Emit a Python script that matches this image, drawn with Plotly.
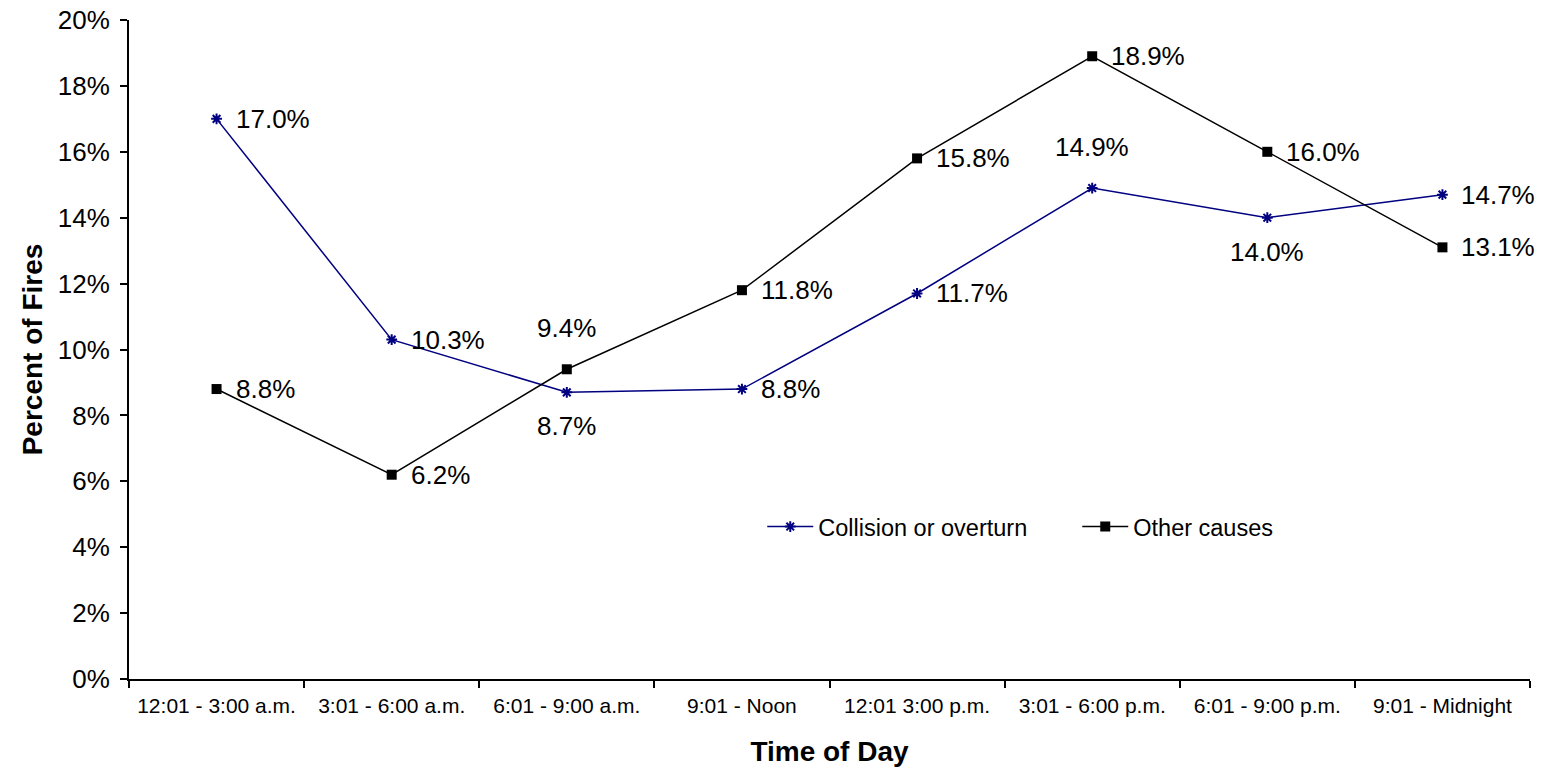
import plotly.graph_objects as go

# Time-of-day buckets and share of vehicle fires (%)
periods = ["12:01 - 3:00 a.m.", "3:01 - 6:00 a.m.", "6:01 - 9:00 a.m.", "9:01 - Noon",
           "12:01 3:00 p.m.", "3:01 - 6:00 p.m.", "6:01 - 9:00 p.m.", "9:01 - Midnight"]
collision = [17.0, 10.3, 8.7, 8.8, 11.7, 14.9, 14.0, 14.7]
other = [8.8, 6.2, 9.4, 11.8, 15.8, 18.9, 16.0, 13.1]

# label placement per point: "r" right, "a" above, "b" below
collision_pos = ["r", "r", "b", "r", "r", "a", "b", "r"]
other_pos = ["r", "r", "a", "r", "r", "r", "r", "r"]

FONT = "Liberation Sans, Arial, sans-serif"
NAVY = "#000080"

fig = go.Figure()
fig.add_trace(go.Scatter(
    x=periods, y=collision, mode="lines+markers", name="Collision or overturn",
    line=dict(color=NAVY, width=1.5),
    marker=dict(symbol="asterisk-open", size=9, color=NAVY, line=dict(color=NAVY, width=2)),
))
fig.add_trace(go.Scatter(
    x=periods, y=other, mode="lines+markers", name="Other causes",
    line=dict(color="black", width=1.5),
    marker=dict(symbol="square", size=10, color="black"),
))

annotations = []
for series, positions in ((collision, collision_pos), (other, other_pos)):
    for p, v, pos in zip(periods, series, positions):
        a = dict(x=p, y=v, text=f"{v:.1f}%", showarrow=False,
                 font=dict(family=FONT, size=26, color="black"))
        if pos == "r":
            a.update(xanchor="left", yanchor="middle", xshift=17)
        elif pos == "a":
            a.update(xanchor="center", yanchor="middle", yshift=41)
        else:
            a.update(xanchor="center", yanchor="middle", yshift=-34)
        annotations.append(a)

fig.update_layout(
    width=1554, height=772,
    margin=dict(l=129, r=24, t=20, b=93),
    paper_bgcolor="white", plot_bgcolor="white",
    font=dict(family=FONT, color="black"),
    showlegend=True,
    legend=dict(orientation="h", x=0.452, y=0.231, xanchor="left", yanchor="middle",
                font=dict(family=FONT, size=23.5), bgcolor="rgba(0,0,0,0)",
                itemwidth=46, entrywidth=254, tracegroupgap=0),
    annotations=annotations,
    xaxis=dict(
        type="category", range=[-0.5, len(periods) - 0.5], automargin=False,
        showline=True, linecolor="black", linewidth=2,
        ticks="outside", tickson="boundaries", ticklen=7, tickwidth=2, tickcolor="black",
        tickfont=dict(family=FONT, size=21), ticklabelstandoff=7,
        showgrid=False, zeroline=False,
        title=dict(text="<b>Time of Day</b>", font=dict(family=FONT, size=28), standoff=25),
    ),
    yaxis=dict(
        range=[0, 20], dtick=2, ticksuffix="%", automargin=False,
        showline=True, linecolor="black", linewidth=2,
        ticks="outside", ticklen=7, tickwidth=2, tickcolor="black",
        tickfont=dict(family=FONT, size=26), ticklabelstandoff=5,
        showgrid=False, zeroline=False,
        title=dict(text="<b>Percent of Fires</b>", font=dict(family=FONT, size=28), standoff=7),
    ),
)

fig.write_html("out.html")
